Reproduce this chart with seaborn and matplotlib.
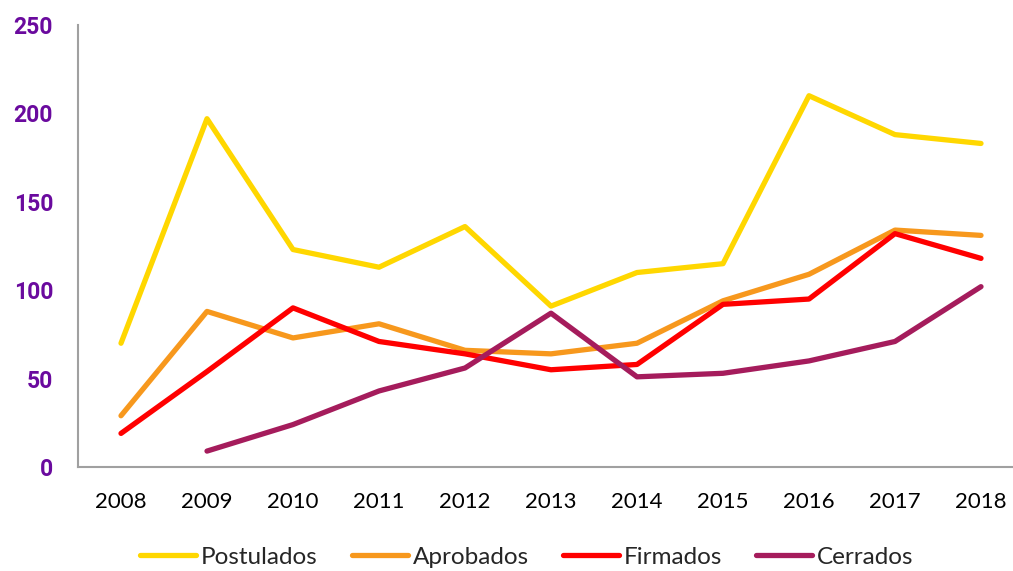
import matplotlib
matplotlib.use("Agg")
import matplotlib.pyplot as plt
import seaborn as sns
import numpy as np
import pandas as pd

years = [2008, 2009, 2010, 2011, 2012, 2013, 2014, 2015, 2016, 2017, 2018]
postulados = [70, 197, 123, 113, 136, 91, 110, 115, 210, 188, 183]
aprobados = [29, 88, 73, 81, 66, 64, 70, 94, 109, 134, 131]
firmados = [19, 54, 90, 71, 64, 55, 58, 92, 95, 132, 118]
cerrados = [np.nan, 9, 24, 43, 56, 87, 51, 53, 60, 71, 102]

series_names = ["Postulados", "Aprobados", "Firmados", "Cerrados"]
series_colors = ["#FFD700", "#F7981D", "#FF0000", "#A51C5C"]

df = pd.DataFrame({
    "year": years * 4,
    "value": postulados + aprobados + firmados + cerrados,
    "serie": [s for s in series_names for _ in years],
})

sns.set_style("white")
plt.rcParams["font.family"] = ["Lato", "DejaVu Sans"]

fig = plt.figure(figsize=(10.13, 5.71), dpi=100)
ax = fig.add_axes([78 / 1013, 1 - 467 / 571, (1024 - 78) / 1013, (467 - 25) / 571])

sns.lineplot(data=df, x="year", y="value", hue="serie", hue_order=series_names,
             palette=series_colors, linewidth=3.8, ax=ax, legend=False)

ax.set_xlim(2007.5, 2018.5)
ax.set_ylim(0, 250)
ax.set_xticks(years)
ax.set_xticklabels([str(y) for y in years], fontsize=16, color="black")
ax.set_yticks([0, 50, 100, 150, 200, 250])
ax.set_yticklabels(["0", "50", "100", "150", "200", "250"], fontsize=16.5,
                   fontweight="bold", color="#6A0A9E", family=["Roboto", "DejaVu Sans"])
ax.tick_params(axis="x", length=0, pad=18)
ax.tick_params(axis="y", length=0, pad=18)
ax.set_xlabel("")
ax.set_ylabel("")

for side in ["top", "right"]:
    ax.spines[side].set_visible(False)
for side in ["left", "bottom"]:
    ax.spines[side].set_color("#A0A0A0")
    ax.spines[side].set_linewidth(1.5)

handles = [plt.Line2D([], [], color=c, linewidth=3.8, solid_capstyle="round") for c in series_colors]
fig.legend(handles, series_names, loc="center", bbox_to_anchor=(0.52, 0.024), ncol=4,
           frameon=False, fontsize=17.5, handlelength=2.3, handletextpad=0.2, columnspacing=1.4)

fig.savefig("out.png", dpi=100)
